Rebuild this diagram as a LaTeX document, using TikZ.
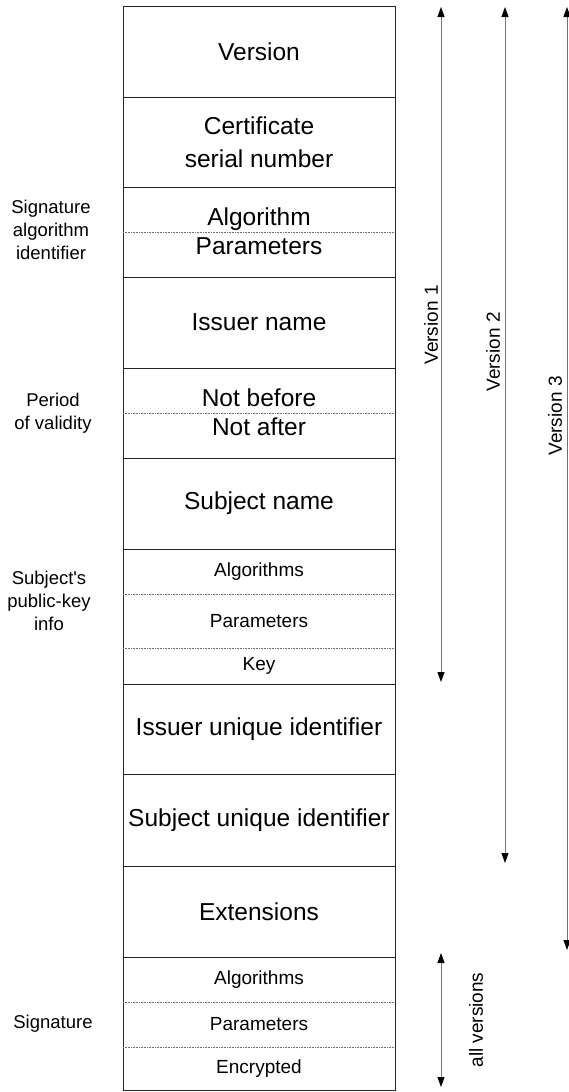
\documentclass[tikz,border=0pt]{standalone}
\usepackage{fontspec}
\setmainfont{Liberation Sans}
\usetikzlibrary{arrows.meta}

\begin{document}
\begin{tikzpicture}[x=1pt, y=-1pt, every node/.style={inner sep=0pt, outer sep=0pt}, >={Triangle[length=10pt, width=7pt, color=black]},
	field/.style={draw=black!85, line width=0.9pt, minimum width=272pt, anchor=north},
	big/.style={font=\fontsize{24.5}{33}\selectfont},
	small/.style={font=\fontsize{19}{22}\selectfont},
	cell/.style={small, minimum width=272pt, anchor=north},
	side/.style={font=\fontsize{18.5}{23}\selectfont, align=center},
	sep/.style={densely dotted, black!55, line width=0.6pt},
	span/.style={<->, black!55, line width=0.9pt}]
	\useasboundingbox (0,0) rectangle (569,1092);
	\node[field, big, minimum height=91pt] (ver) at (259,6) {Version};
	\node[field, big, align=center, minimum height=90pt] (serial) at (ver.south) {Certificate\\serial number};
	\node[field, minimum height=90pt] (sigalg) at (serial.south) {};
	\node[field, big, minimum height=91pt] (issuer) at (sigalg.south) {Issuer name};
	\node[field, minimum height=90pt] (period) at (issuer.south) {};
	\node[field, big, minimum height=91pt] (subject) at (period.south) {Subject name};
	\node[field, minimum height=135pt] (pkinfo) at (subject.south) {};
	\node[field, big, minimum height=90pt] (issuerid) at (pkinfo.south) {Issuer unique identifier};
	\node[field, big, minimum height=92pt] (subjectid) at (issuerid.south) {Subject unique identifier};
	\node[field, big, minimum height=91pt] (ext) at (subjectid.south) {Extensions};
	\node[field, minimum height=133pt] (sig) at (ext.south) {};

	\node[big, anchor=base] (alg) at (259,225) {Algorithm};
	\node[big, anchor=base] (par) at (259,254) {Parameters};
	\draw[sep] (sigalg.west) -- (sigalg.east);
	\node[big, anchor=base] (notbefore) at (259,406) {Not before};
	\node[big, anchor=base] (notafter) at (259,435) {Not after};
	\draw[sep] (period.west) -- (period.east);

	\node[cell, minimum height=45pt] (pkalg) at (pkinfo.north) {Algorithms};
	\node[cell, minimum height=54pt] (pkpar) at (pkalg.south) {Parameters};
	\node[cell, minimum height=36pt] (pkkey) at (pkpar.south) {Key};
	\draw[sep] (pkalg.south west) -- (pkalg.south east);
	\draw[sep] (pkpar.south west) -- (pkpar.south east);

	\node[cell, minimum height=45pt] (sigalgs) at (sig.north) {Algorithms};
	\node[cell, minimum height=45pt] (sigpar) at (sigalgs.south) {Parameters};
	\node[cell, minimum height=43pt] (sigenc) at (sigpar.south) {Encrypted};
	\draw[sep] (sigalgs.south west) -- (sigalgs.south east);
	\draw[sep] (sigpar.south west) -- (sigpar.south east);

	\node[side] (sigalglab) at (51,230) {Signature\\algorithm\\identifier};
	\node[side] (periodlab) at (53,413) {Period\\of validity};
	\node[side] (pklab) at (49,601) {Subject\textquotesingle s\\public-key\\info};
	\node[side] (siglab) at (53,1024) {Signature};

	\coordinate (v1top) at (441,7);
	\coordinate (v1bot) at (441,682);
	\coordinate (v2top) at (505,7);
	\coordinate (v2bot) at (505,863);
	\coordinate (v3top) at (567,7);
	\coordinate (v3bot) at (567,950);
	\coordinate (alltop) at (441,953);
	\coordinate (allbot) at (441,1087);
	\draw[span] (v1top) -- (v1bot);
	\draw[span] (v2top) -- (v2bot);
	\draw[span] (v3top) -- (v3bot);
	\draw[span] (alltop) -- (allbot);
	\node[small, rotate=90] (v1lab) at (431,325) {Version 1};
	\node[small, rotate=90] (v2lab) at (493,352) {Version 2};
	\node[small, rotate=90] (v3lab) at (555,416) {Version 3};
	\node[small, rotate=90] (alllab) at (476,1020) {all versions};
\end{tikzpicture}
\end{document}
